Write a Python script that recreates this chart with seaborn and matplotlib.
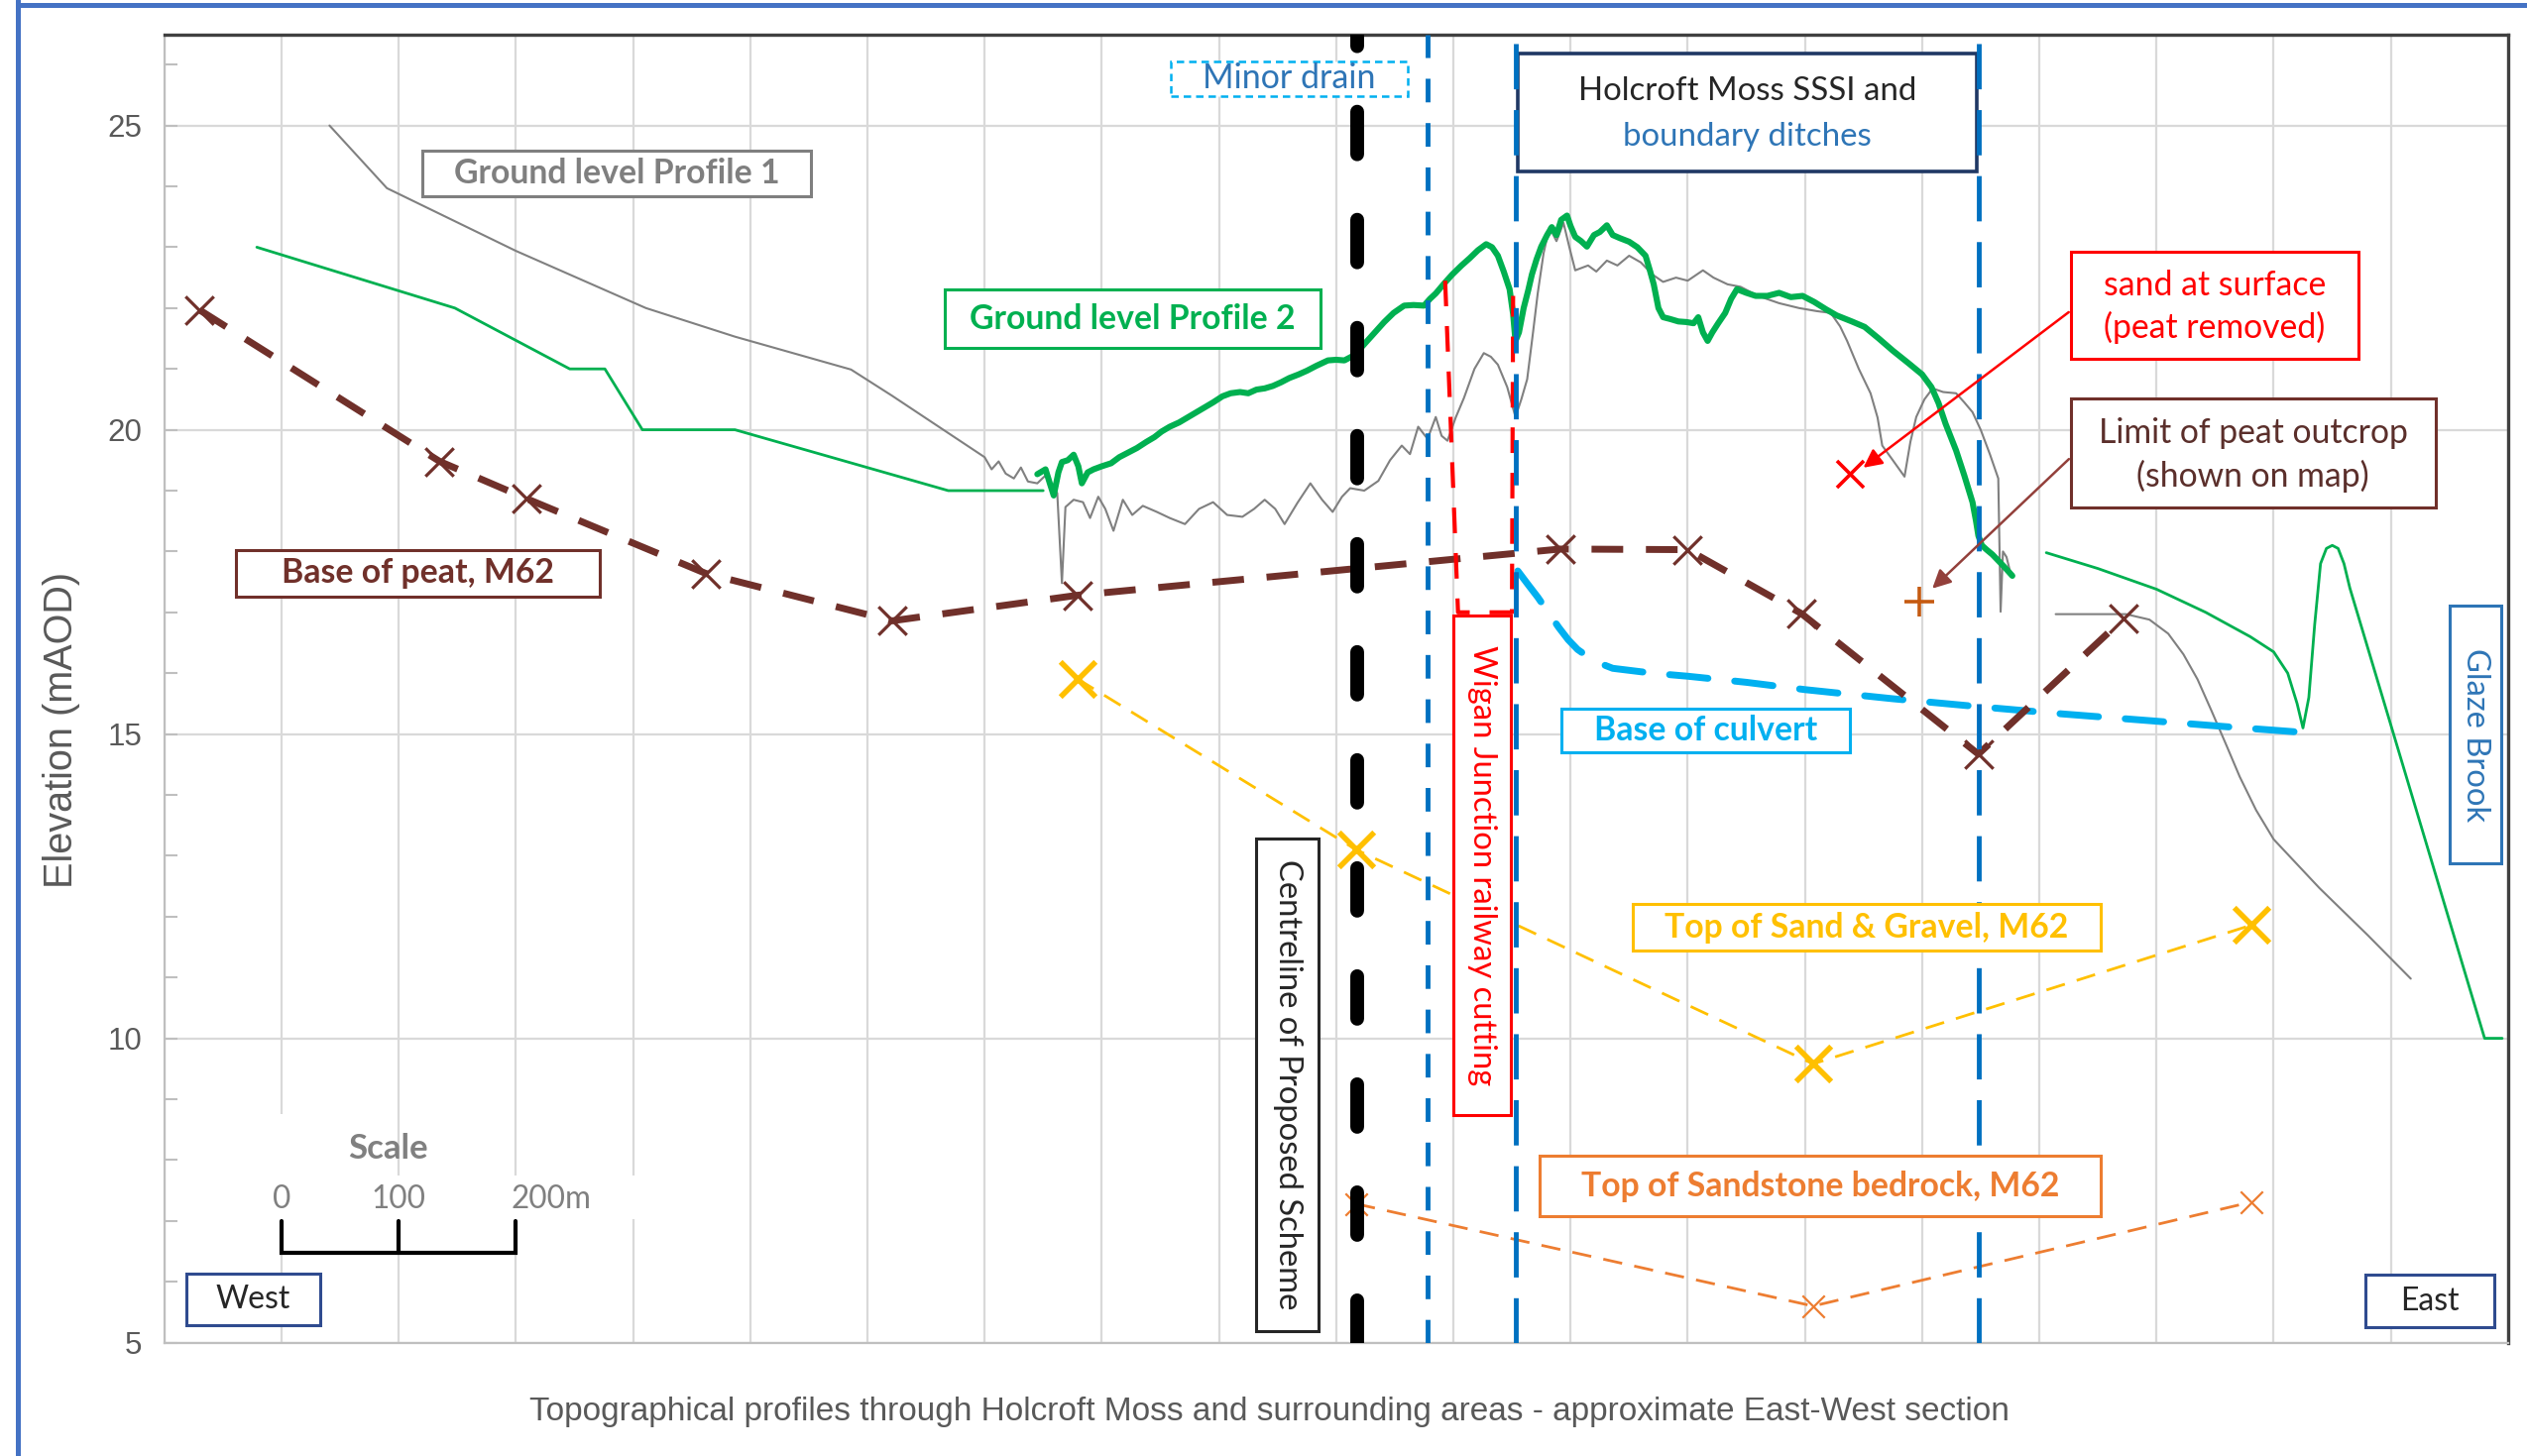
import matplotlib
matplotlib.use("Agg")
import matplotlib.pyplot as plt
from matplotlib.patches import Rectangle
from matplotlib.lines import Line2D
from matplotlib.ticker import MultipleLocator, FixedLocator
import seaborn as sns

# ---------------- data (distance along section in m, elevation in mAOD) ----------------
# Ground level Profile 1 (grey), main run
p1_x = [141, 190, 300, 411, 487, 586, 621, 700, 706, 712, 718, 725, 731, 737, 745, 752, 758, 762,
        766, 769, 776, 784, 790, 797, 803, 810, 818, 826, 835, 847, 858, 871, 883, 895, 907, 920,
        930, 939, 948, 956, 967, 978, 988, 997, 1005, 1012, 1024, 1036, 1046, 1056, 1063, 1070,
        1078, 1085, 1090, 1095, 1102, 1109, 1118, 1126, 1132, 1138, 1146, 1153, 1158, 1163, 1168,
        1172, 1177, 1182, 1188, 1194, 1199, 1204, 1215, 1222, 1231, 1240, 1250, 1260, 1270, 1279,
        1290, 1300, 1313, 1322, 1334, 1345, 1360, 1378, 1395, 1410, 1422, 1430, 1436, 1446, 1456,
        1462, 1466, 1475, 1485, 1490, 1495, 1502, 1509, 1518, 1529, 1536, 1543, 1550, 1558, 1565,
        1567, 1569, 1572, 1576]
p1_y = [25.00, 23.97, 22.94, 22.00, 21.53, 20.99, 20.56, 19.55, 19.35, 19.48, 19.28, 19.20, 19.38,
        19.15, 19.12, 19.25, 19.05, 18.96, 17.48, 18.73, 18.85, 18.81, 18.55, 18.90, 18.70, 18.34,
        18.85, 18.60, 18.75, 18.65, 18.55, 18.45, 18.70, 18.81, 18.60, 18.57, 18.70, 18.85, 18.70,
        18.45, 18.80, 19.12, 18.85, 18.65, 18.90, 19.04, 19.00, 19.16, 19.50, 19.74, 19.60, 20.05,
        19.85, 20.21, 19.90, 19.82, 20.20, 20.52, 21.00, 21.26, 21.20, 21.07, 20.70, 20.21, 20.50,
        20.83, 21.60, 22.24, 22.90, 23.33, 23.10, 23.40, 23.00, 22.62, 22.70, 22.60, 22.78, 22.70,
        22.86, 22.75, 22.55, 22.43, 22.50, 22.45, 22.62, 22.50, 22.39, 22.35, 22.20, 22.08, 22.00,
        21.95, 21.92, 21.70, 21.46, 21.00, 20.60, 20.20, 19.74, 19.50, 19.23, 19.80, 20.21, 20.50,
        20.68, 20.62, 20.60, 20.45, 20.29, 20.00, 19.59, 19.20, 17.01, 18.00, 17.91, 17.60]
# Ground level Profile 1, east of Glaze Brook culvert
p1e_x = [1614, 1674, 1694, 1710, 1723, 1735, 1747, 1760, 1771, 1785, 1800, 1839, 1880, 1917]
p1e_y = [16.97, 16.97, 16.88, 16.65, 16.31, 15.90, 15.38, 14.80, 14.30, 13.75, 13.27, 12.47, 11.70, 10.98]

# Ground level Profile 2 (green): west run, detailed survey across the Moss, east run
p2w_x = [79, 248, 346, 376, 408, 487, 669, 750]
p2w_y = [23.00, 22.00, 21.00, 21.00, 20.00, 20.00, 19.00, 19.00]
p2m_x = [745, 752, 756, 759, 763, 766, 771, 776, 780, 783, 788, 793, 800, 808, 815, 822, 830, 838,
         845, 851, 858, 866, 873, 881, 888, 895, 903, 910, 918, 925, 932, 939, 946, 953, 960, 968,
         975, 983, 993, 1000, 1007, 1013, 1019, 1026, 1033, 1041, 1049, 1058, 1066, 1075, 1080,
         1085, 1092, 1099, 1107, 1114, 1121, 1128, 1133, 1138, 1143, 1148, 1151, 1153, 1156, 1160,
         1164, 1167, 1171, 1175, 1180, 1184, 1188, 1192, 1197, 1200, 1204, 1209, 1214, 1220, 1225,
         1231, 1236, 1242, 1250, 1257, 1264, 1268, 1271, 1275, 1279, 1285, 1292, 1299, 1305, 1309,
         1313, 1317, 1321, 1326, 1332, 1337, 1342, 1350, 1358, 1368, 1378, 1388, 1398, 1408, 1418,
         1427, 1440, 1451, 1463, 1475, 1488, 1500, 1508, 1514, 1520, 1529, 1536, 1543, 1546, 1548,
         1551, 1555, 1560, 1565, 1570, 1577]
p2m_y = [19.27, 19.35, 19.10, 18.92, 19.30, 19.47, 19.50, 19.59, 19.40, 19.12, 19.30, 19.35, 19.40,
         19.45, 19.55, 19.62, 19.70, 19.80, 19.88, 19.97, 20.05, 20.12, 20.20, 20.29, 20.37, 20.45,
         20.55, 20.60, 20.62, 20.60, 20.66, 20.68, 20.72, 20.78, 20.85, 20.91, 20.97, 21.05, 21.14,
         21.15, 21.14, 21.20, 21.30, 21.45, 21.60, 21.77, 21.92, 22.04, 22.05, 22.04, 22.15, 22.24,
         22.40, 22.55, 22.70, 22.82, 22.95, 23.05, 23.00, 22.86, 22.60, 22.31, 21.90, 21.46, 21.60,
         22.00, 22.30, 22.55, 22.80, 23.01, 23.20, 23.33, 23.20, 23.45, 23.52, 23.35, 23.17, 23.10,
         23.01, 23.20, 23.25, 23.36, 23.20, 23.15, 23.09, 23.00, 22.86, 22.60, 22.39, 22.00, 21.85,
         21.82, 21.78, 21.77, 21.75, 21.85, 21.60, 21.46, 21.60, 21.75, 21.92, 22.15, 22.31, 22.25,
         22.20, 22.20, 22.25, 22.18, 22.20, 22.10, 21.98, 21.88, 21.78, 21.69, 21.50, 21.30, 21.10,
         20.91, 20.70, 20.44, 20.10, 19.66, 19.25, 18.81, 18.50, 18.26, 18.10, 18.03, 17.95, 17.85,
         17.75, 17.60]
p2e_x = [1606, 1650, 1700, 1742, 1780, 1800, 1812, 1820, 1825, 1830, 1835, 1840, 1845, 1850, 1855,
         1860, 1865, 1980, 1995]
p2e_y = [17.98, 17.72, 17.38, 17.00, 16.60, 16.35, 16.00, 15.50, 15.10, 15.60, 16.80, 17.80, 18.05,
         18.10, 18.05, 17.80, 17.40, 10.00, 10.00]

# Base of peat, M62 (borehole points)
peat_x = [30, 235, 309, 462, 621, 779, 1191, 1300, 1397, 1548, 1672]
peat_y = [21.97, 19.48, 18.87, 17.64, 16.86, 17.28, 18.04, 18.03, 16.98, 14.67, 16.90]

# Base of culvert
culvert_x = [1155, 1164, 1172, 1181, 1190, 1198, 1206, 1220, 1236, 1270, 1300, 1350, 1400, 1475,
             1548, 1620, 1694, 1760, 1823]
culvert_y = [17.68, 17.45, 17.25, 17.00, 16.75, 16.55, 16.39, 16.20, 16.08, 16.00, 15.95, 15.85,
             15.73, 15.58, 15.45, 15.33, 15.22, 15.12, 15.03]

# Top of Sand & Gravel, M62 and Top of Sandstone bedrock, M62
gravel_x = [779, 1017, 1407, 1781]
gravel_y = [15.91, 13.10, 9.58, 11.86]
bedrock_x = [1017, 1407, 1781]
bedrock_y = [7.28, 5.60, 7.31]

# Single points: sand at surface, limit of peat outcrop
sand_pt_x, sand_pt_y = [1438], [19.28]
limit_pt_x, limit_pt_y = [1498], [17.18]

# Wigan Junction railway cutting outline
rail_x = [1093, 1104, 1150, 1151]
rail_y = [22.45, 17.00, 17.00, 22.20]

# Vertical reference lines
centreline_x = 1018
minor_drain_x = 1078
ditch_x = [1153, 1548.5]

# Scale bar
scale_ticks = [0, 100, 200]
scale_labels = ["0", "100", "200m"]

Y_MIN, Y_MAX = 5, 26.5
X_MIN, X_MAX = 0, 2000

# ---------------- style ----------------
sns.set_theme(style="white")
plt.rcParams["font.family"] = ["Liberation Sans", "DejaVu Sans"]
BOX_FONT = ["Lato", "DejaVu Sans"]

GREY = "#808080"
GREEN = "#00B050"
PEAT = "#70302A"
CULVERT = "#00B0F0"
DITCH = "#0070C0"
YELLOW = "#FFC000"
ORANGE = "#ED7D31"
RED = "#FF0000"
TEXTBLUE = "#2E75B6"

fig = plt.figure(figsize=(25.49, 14.69), dpi=100)
ax = fig.add_axes([0.0650, 0.0779, 0.9275, 0.8986])
ax.set_facecolor("white")
ax.set_xlim(X_MIN, X_MAX)
ax.set_ylim(Y_MIN, Y_MAX)


def line(x, y, **kw):
    sns.lineplot(x=x, y=y, ax=ax, sort=False, estimator=None, legend=False, **kw)


# ground profiles
line(p1_x, p1_y, color=GREY, linewidth=1.5, zorder=3)
line(p1e_x, p1e_y, color=GREY, linewidth=1.5, zorder=3)
line(p2w_x, p2w_y, color=GREEN, linewidth=2.0, zorder=3)
line(p2m_x, p2m_y, color=GREEN, linewidth=4.4, zorder=3.2)
line(p2e_x, p2e_y, color=GREEN, linewidth=2.0, zorder=3)

# geological surfaces
line(peat_x, peat_y, color=PEAT, linewidth=5, linestyle=(0, (4.6, 3.3)), zorder=3.5)
sns.scatterplot(x=peat_x, y=peat_y, ax=ax, marker="x", s=420, color=PEAT, linewidth=2.3, zorder=3.6)

line(culvert_x, culvert_y, color=CULVERT, linewidth=5, linestyle=(0, (5.6, 3.9)),
     dash_capstyle="round", zorder=3.4)

line(gravel_x, gravel_y, color=YELLOW, linewidth=2.0, linestyle=(0, (7, 4.5)), zorder=3.3)
sns.scatterplot(x=gravel_x, y=gravel_y, ax=ax, marker="x", s=650, color=YELLOW, linewidth=4, zorder=3.6)

line(bedrock_x, bedrock_y, color=ORANGE, linewidth=2.0, linestyle=(0, (7, 4.5)), zorder=3.3)
sns.scatterplot(x=bedrock_x, y=bedrock_y, ax=ax, marker="x", s=260, color=ORANGE, linewidth=1.6, zorder=3.6)

sns.scatterplot(x=sand_pt_x, y=sand_pt_y, ax=ax, marker="x", s=380, color=RED, linewidth=2.6, zorder=3.6)
sns.scatterplot(x=limit_pt_x, y=limit_pt_y, ax=ax, marker="+", s=450, color="#C55A11", linewidth=2.6, zorder=3.6)

# railway cutting outline
line(rail_x, rail_y, color=RED, linewidth=3, linestyle=(0, (6.2, 4.8)), zorder=3.7)

# vertical reference lines
line([centreline_x, centreline_x], [Y_MIN, Y_MAX], color="black", linewidth=10,
     linestyle=(0, (3.1, 4.75)), dash_capstyle="round", zorder=4)
line([minor_drain_x, minor_drain_x], [Y_MIN, Y_MAX], color=DITCH, linewidth=3.5,
     linestyle=(0, (4.9, 4.3)), zorder=4)
for xd in ditch_x:
    line([xd, xd], [Y_MIN, Y_MAX], color=DITCH, linewidth=3.5, linestyle=(0, (9.4, 4.3)), zorder=5.5)


# ---------------- annotation boxes ----------------
def box(x0, x1, y0, y1, lines, edge, size=24.3, weight="bold", rotation=0, ls="-", lw=2.2, z=6):
    ax.add_patch(Rectangle((x0, y0), x1 - x0, y1 - y0, facecolor="white", edgecolor=edge,
                           linewidth=lw, linestyle=ls, zorder=z))
    xc, yc = (x0 + x1) / 2, (y0 + y1) / 2
    if len(lines) == 1:
        text, col = lines[0]
        ax.text(xc, yc, text, color=col, fontsize=size, fontweight=weight, family=BOX_FONT,
                ha="center", va="center", rotation=rotation, zorder=z + 0.1)
    else:
        h = (y1 - y0)
        for i, (text, col) in enumerate(lines):
            yy = y1 - h * (0.32 + 0.39 * i)
            ax.text(xc, yy, text, color=col, fontsize=size, fontweight=weight, family=BOX_FONT,
                    ha="center", va="center", zorder=z + 0.1)


box(220, 552, 23.83, 24.58, [("Ground level Profile 1", "#7F7F7F")], "#7F7F7F")
box(666, 987, 21.34, 22.30, [("Ground level Profile 2", GREEN)], GREEN)
box(61, 372, 17.26, 18.03, [("Base of peat, M62", PEAT)], PEAT)
box(859, 1061, 25.48, 26.06, [("Minor drain", TEXTBLUE)], CULVERT, size=24.5, weight="normal",
    ls=(0, (3, 2)), lw=1.8)
box(1155, 1547, 24.25, 26.18, [("Holcroft Moss SSSI and", "#262626"), ("boundary ditches", TEXTBLUE)],
    "#1F3864", size=23.8, weight="normal", lw=2.6, z=5)
box(1627, 1872, 21.16, 22.93, [("sand at surface", RED), ("(peat removed)", RED)], RED,
    size=24.3, weight="normal")
box(1627, 1938, 18.72, 20.52, [("Limit of peat outcrop", "#5B2F2B"), ("(shown on map)", "#5B2F2B")],
    PEAT, size=24.3, weight="normal")
box(1192, 1438, 14.70, 15.41, [("Base of culvert", CULVERT)], CULVERT)
box(1100, 1149, 8.74, 16.95, [("Wigan Junction railway cutting", RED)], RED, size=23.6,
    weight="normal", rotation=270, z=5)
box(932, 985, 5.19, 13.29, [("Centreline of Proposed Scheme", "#262626")], "#262626", size=23.6,
    weight="normal", rotation=270)
box(1253, 1652, 11.44, 12.21, [("Top of Sand & Gravel, M62", YELLOW)], YELLOW)
box(1174, 1652, 7.07, 8.07, [("Top of Sandstone bedrock, M62", ORANGE)], ORANGE)
box(1950, 1994, 12.87, 17.11, [("Glaze Brook", TEXTBLUE)], TEXTBLUE, size=23.6, weight="normal",
    rotation=270)
box(19, 133, 5.28, 6.13, [("West", "#262626")], "#2F4B8F", size=23, weight="normal")
box(1878, 1988, 5.26, 6.11, [("East", "#262626")], "#2F4B8F", size=23, weight="normal")

# arrows to the single points
ax.annotate("", xy=(1448, 19.35), xytext=(1627, 21.96),
            arrowprops=dict(arrowstyle="-|>", color=RED, lw=1.8, mutation_scale=28), zorder=7)
ax.annotate("", xy=(1507, 17.36), xytext=(1627, 19.55),
            arrowprops=dict(arrowstyle="-|>", color="#93403B", lw=1.8, mutation_scale=28), zorder=7)

# ---------------- scale bar ----------------
sx0 = 100
ax.add_patch(Rectangle((60, 7.03), 360, 0.72, facecolor="white", edgecolor="none", zorder=2))
ax.add_patch(Rectangle((95, 7.75), 95, 1.0, facecolor="white", edgecolor="none", zorder=2))
ax.text(191, 8.19, "Scale", color=GREY, fontsize=25, fontweight="bold", family=BOX_FONT,
        ha="center", va="center", zorder=5)
bar_x = [sx0 + t for t in scale_ticks]
ax.plot([bar_x[0], bar_x[0], bar_x[-1], bar_x[-1]], [7.0, 6.48, 6.48, 7.0], color="black",
        lw=3, solid_joinstyle="miter", zorder=5)
ax.plot([bar_x[1], bar_x[1]], [6.48, 7.0], color="black", lw=3, zorder=5)
label_offsets = [0, 0, 30]
for bx, lab, off in zip(bar_x, scale_labels, label_offsets):
    ax.text(bx + off, 7.36, lab, color=GREY, fontsize=22.7, family=BOX_FONT, ha="center",
            va="center", zorder=5)

# ---------------- axes styling ----------------
ax.xaxis.set_major_locator(MultipleLocator(100))
ax.set_xticklabels([])
ax.tick_params(axis="x", length=0)
ax.yaxis.set_major_locator(FixedLocator([5, 10, 15, 20, 25]))
ax.yaxis.set_minor_locator(MultipleLocator(1))
ax.tick_params(axis="y", which="both", direction="in", length=9, width=1.5, color="#BFBFBF",
               labelsize=22.5, labelcolor="#595959", pad=16, left=True)
ax.grid(axis="x", which="major", color="#D9D9D9", linewidth=1.6, zorder=0)
ax.grid(axis="y", which="major", color="#D9D9D9", linewidth=1.6, zorder=0)
ax.set_axisbelow(True)

for side in ("left", "bottom"):
    ax.spines[side].set_color("#BFBFBF")
    ax.spines[side].set_linewidth(1.6)
for side in ("top", "right"):
    ax.spines[side].set_color("#404040")
    ax.spines[side].set_linewidth(2.4)

ax.set_ylabel("Elevation (mAOD)", fontsize=28.5, color="#595959")
ax.yaxis.set_label_coords(-0.036, 0.4686)
ax.set_xlabel("Topographical profiles through Holcroft Moss and surrounding areas - approximate "
              "East-West section", fontsize=24, color="#595959")
ax.xaxis.set_label_coords(0.4717, -0.041)

# outer frame (left and top edges)
fig.add_artist(Line2D([0.0071, 0.0071], [0, 1], transform=fig.transFigure, color="#4472C4", lw=3.6))
fig.add_artist(Line2D([0.0071, 1], [0.9966, 0.9966], transform=fig.transFigure, color="#4472C4", lw=3.6))

fig.savefig("out.png", dpi=100, facecolor="white")
